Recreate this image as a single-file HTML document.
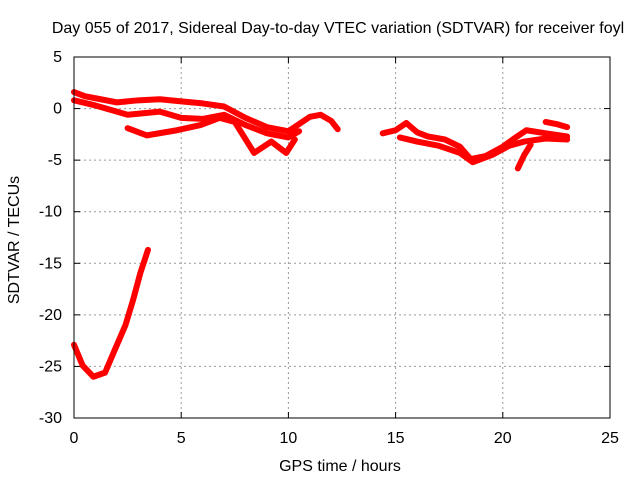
<!DOCTYPE html>
<html><head><meta charset="utf-8"><style>
body{margin:0;background:#fff}
svg text{font-family:"Liberation Sans",sans-serif;font-size:16px;fill:#000}
</style></head><body>
<svg id="chart" width="640" height="480" xmlns="http://www.w3.org/2000/svg">
<text x="338" y="33" text-anchor="middle" font-size="16">Day 055 of 2017, Sidereal Day-to-day VTEC variation (SDTVAR) for receiver foyl</text>
<text x="340" y="471" text-anchor="middle">GPS time / hours</text>
<text transform="translate(19,240) rotate(-90)" text-anchor="middle">SDTVAR / TECUs</text>
<g id="grid"></g><g id="ticks"></g><g id="series"></g>
<rect x="74" y="57" width="536" height="361" fill="none" stroke="#000" stroke-width="1"/>
</svg>
<script>
const xTicks=[0,5,10,15,20,25];
const yTicks=[5,0,-5,-10,-15,-20,-25,-30];
const trackTopH=[0,0.5,1,2,3,4,5,6,7,8,9,10,11,11.5,12,12.3];
const trackTopV=[1.6,1.2,1.0,0.6,0.8,0.9,0.7,0.5,0.2,-0.9,-1.8,-2.2,-0.8,-0.6,-1.2,-2.0];
const trackMidH=[0,1,2,2.5,3,4,5,6,7,8,9,10,10.5];
const trackMidV=[0.8,0.3,-0.3,-0.6,-0.5,-0.3,-0.9,-1.0,-0.6,-1.6,-2.4,-2.8,-2.2];
const trackLowH=[2.5,3.4,4.8,5.9,6.8,7.5,8.4,9.2,9.9,10.3];
const trackLowV=[-1.9,-2.6,-2.1,-1.6,-0.9,-1.3,-4.3,-3.2,-4.3,-3.0];
const trackEveH=[14.4,15.0,15.5,16.0,16.5,17.3,18.0,18.5,19.2,20.0,20.6,21.1,22.0,23.0];
const trackEveV=[-2.4,-2.1,-1.4,-2.3,-2.7,-3.0,-3.7,-4.9,-4.6,-3.7,-2.8,-2.1,-2.4,-2.7];
const trackEve2H=[15.2,16,17,18,18.6,19.5,20.3,21,22,23];
const trackEve2V=[-2.8,-3.2,-3.6,-4.3,-5.2,-4.5,-3.6,-3.2,-2.9,-3.0];
const trackBranchH=[20.7,21.0,21.3];
const trackBranchV=[-5.8,-4.5,-3.5];
const trackShortH=[22.0,22.5,23.0];
const trackShortV=[-1.3,-1.5,-1.8];
const trackMorningH=[0,0.4,0.9,1.45,1.9,2.4,2.75,3.1,3.45];
const trackMorningV=[-22.9,-24.9,-26,-25.6,-23.4,-21,-18.6,-15.9,-13.7];
const sx=h=>74+h*(536/25);
const sy=v=>57+(5-v)*(361/35);
const NS='http://www.w3.org/2000/svg';
const grid=document.getElementById('grid'),ticks=document.getElementById('ticks'),ser=document.getElementById('series');
function mk(t,a,p){const e=document.createElementNS(NS,t);for(const k in a)e.setAttribute(k,a[k]);p.appendChild(e);return e;}
xTicks.forEach(t=>{const x=sx(t);
 if(t>0&&t<25){const g=mk('line',{x1:x,x2:x,y1:57,y2:418,stroke:'#999','stroke-dasharray':'2,3'},grid);
 
 }
 mk('line',{x1:x,x2:x,y1:418,y2:412,stroke:'#000'},ticks);mk('line',{x1:x,x2:x,y1:57,y2:63,stroke:'#000'},ticks);
 const l=mk('text',{x:x,y:443,'text-anchor':'middle'},ticks);l.textContent=t;
 
 });
yTicks.forEach(t=>{const y=sy(t);
 if(t<5&&t>-30){const g=mk('line',{x1:74,x2:610,y1:y,y2:y,stroke:'#999','stroke-dasharray':'2,3'},grid);
 
 }
 mk('line',{x1:74,x2:80,y1:y,y2:y,stroke:'#000'},ticks);mk('line',{x1:610,x2:604,y1:y,y2:y,stroke:'#000'},ticks);
 const l=mk('text',{x:62,y:y+5,'text-anchor':'end'},ticks);l.textContent=t;
 
 });
[[trackTopH,trackTopV],[trackMidH,trackMidV],[trackLowH,trackLowV],[trackEveH,trackEveV],[trackEve2H,trackEve2V],[trackBranchH,trackBranchV],[trackShortH,trackShortV],[trackMorningH,trackMorningV]].forEach(([H,V])=>{
 const p=mk('polyline',{points:H.map((h,i)=>sx(h)+','+sy(V[i])).join(' '),fill:'none',stroke:'#f00','stroke-width':6,'stroke-linejoin':'round','stroke-linecap':'round'},ser);
 
 });
</script>
</body></html>
